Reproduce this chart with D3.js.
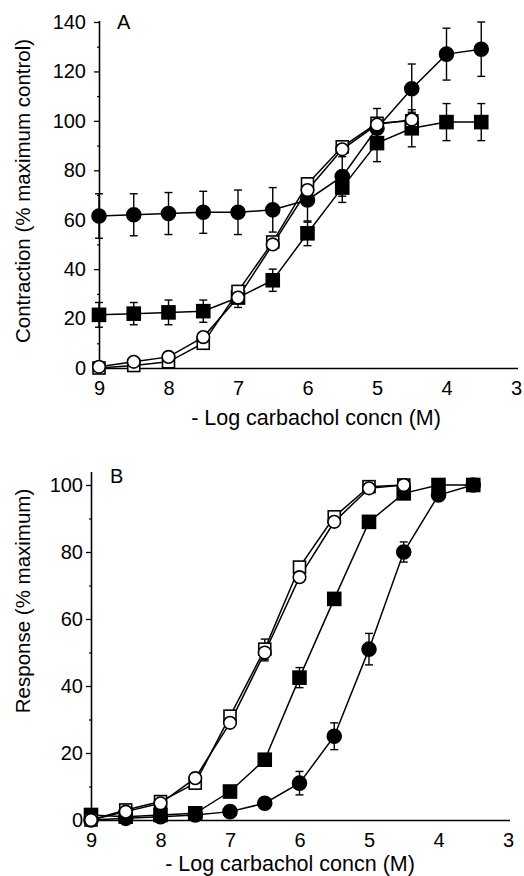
<!DOCTYPE html>
<html>
<head>
<meta charset="utf-8">
<script src="https://cdn.jsdelivr.net/npm/d3@7"></script>
<style>
  body { margin: 0; background: #fff; }
  svg { display: block; font-family: "Liberation Sans", Arial, sans-serif; }
</style>
</head>
<body>
<div id="chart"></div>
<script>
// ---- data (x = -log carbachol concn) ----
const logConc = [9, 8.5, 8, 7.5, 7, 6.5, 6, 5.5, 5, 4.5, 4, 3.5];

// Panel A: contraction (% maximum control)
const aFilledCircle = [61.5, 62, 62.5, 63, 63, 64, 68, 77.5, 97, 113, 127, 129];
const aFilledCircleErr = [9, 8.5, 8.5, 8.5, 9, 9, 9, 8, 8, 10, 10.5, 11];
const aFilledSquare = [21.5, 22, 22.5, 23, 28.5, 35.5, 54.5, 73, 91, 97, 99.5, 99.5];
const aFilledSquareErr = [5, 4.5, 5, 4.5, 4, 4.5, 5, 6, 7.5, 7.5, 7.5, 7.5];
const aOpenSquare = [0, 1, 2.5, 10, 31, 51, 74.5, 89.5, 99, 100];
const aOpenSquareErr = [0, 0, 0, 0, 1.5, 1.5, 2, 2, 2, 0];
const aOpenCircle = [0.5, 2.5, 4.5, 12.5, 28.5, 50, 72, 88.5, 98.5, 100.5];
const aOpenCircleErr = [0, 0, 0, 0, 0, 0, 2, 0, 0, 3];

// Panel B: response (% maximum)
const bFilledCircle = [0, 0.5, 1, 1.5, 2.5, 5, 11, 25, 51, 80, 97, 100];
const bFilledCircleErr = [0, 0, 0, 0, 0, 0, 3.5, 4, 4.7, 3, 1, 0];
const bFilledSquare = [1.5, 1, 1.5, 2, 8.5, 18, 42.5, 66, 89, 97.5, 100, 100];
const bFilledSquareErr = [0, 0, 0, 0, 0, 0, 3, 0, 0, 0, 0, 0];
const bOpenSquare = [0, 3, 5.5, 11, 31, 51, 75.5, 90.5, 99.5, 100];
const bOpenSquareErr = [0, 0, 0, 0, 0, 3, 0, 0, 0, 0];
const bOpenCircle = [0, 2.5, 5, 12.5, 29, 50, 72.5, 89, 99, 100];
const bOpenCircleErr = [0, 0, 0, 0, 0, 2.5, 0, 0, 0, 0];

const xTicks = [9, 8, 7, 6, 5, 4, 3];

const width = 524, height = 876;
const svg = d3.select("#chart").append("svg")
    .attr("width", width)
    .attr("height", height);

function makeSeries(vals, errs, shape, fill) {
    return {
        points: vals.map((v, i) => ({x: logConc[i], y: v, e: errs[i]})),
        shape: shape,
        fill: fill
    };
}

function drawPanel(opt) {
    const x = d3.scaleLinear().domain([9, 3]).range(opt.xRange);
    const y = d3.scaleLinear().domain(opt.yDomain).range(opt.yRange);
    const g = svg.append("g");

    // x axis (no tick marks, just a line and labels)
    const xAxis = g.append("g")
        .attr("transform", `translate(0,${opt.yRange[0]})`)
        .call(d3.axisBottom(x).tickValues(xTicks).tickSize(0).tickPadding(opt.xPad).tickFormat(d3.format("d")));
    xAxis.select(".domain").attr("stroke-width", 1.6)
        .attr("d", `M${opt.yAxisX},0.5H${opt.xRange[1] + 2}`);
    xAxis.selectAll("text").style("font-size", "20px").attr("fill", "#000");

    // y axis major ticks
    const yAxis = g.append("g")
        .attr("transform", `translate(${opt.yAxisX},0)`)
        .call(d3.axisLeft(y).tickValues(opt.yTicks).tickSize(opt.majorTick).tickPadding(opt.yPad));
    yAxis.select(".domain").attr("stroke-width", 1.6)
        .attr("d", `M-0.5,${opt.yRange[0]}V${opt.yTop}`);
    yAxis.selectAll("line").attr("stroke-width", 1.3);
    yAxis.selectAll("text").style("font-size", "20px").attr("fill", "#000");

    // minor ticks
    g.append("g")
        .attr("transform", `translate(${opt.yAxisX},0)`)
        .call(d3.axisLeft(y).tickValues(opt.yMinor).tickSize(3).tickFormat(""))
        .call(s => s.select(".domain").remove())
        .selectAll("line").attr("stroke-width", 1.2);

    // panel letter
    g.append("text")
        .attr("x", opt.letterPos[0]).attr("y", opt.letterPos[1])
        .style("font-size", "20px")
        .text(opt.letter);

    // axis titles
    g.append("text")
        .attr("x", opt.xTitlePos[0]).attr("y", opt.xTitlePos[1])
        .attr("text-anchor", "middle")
        .style("font-size", "21.5px")
        .text("- Log carbachol concn (M)");

    g.append("text")
        .attr("transform", `translate(${opt.yTitlePos[0]},${opt.yTitlePos[1]}) rotate(-90)`)
        .attr("text-anchor", "middle")
        .style("font-size", "20.5px")
        .text(opt.yTitle);

    const line = d3.line().x(d => x(d.x)).y(d => y(d.y));

    // connecting lines
    opt.series.forEach(s => {
        g.append("path")
            .datum(s.points)
            .attr("d", line)
            .attr("fill", "none")
            .attr("stroke", "#000")
            .attr("stroke-width", 1.5);
    });

    // error bars
    opt.series.forEach(s => {
        const eb = g.append("g").attr("stroke", "#000").attr("stroke-width", 1.4);
        s.points.filter(d => d.e > 0).forEach(d => {
            const cx = x(d.x);
            eb.append("line").attr("x1", cx).attr("x2", cx)
                .attr("y1", y(d.y - d.e)).attr("y2", y(d.y + d.e));
            [d.y - d.e, d.y + d.e].forEach(v => {
                eb.append("line").attr("x1", cx - 4).attr("x2", cx + 4)
                    .attr("y1", y(v)).attr("y2", y(v));
            });
        });
    });

    // markers
    opt.series.forEach(s => {
        const mk = g.append("g");
        s.points.forEach(d => {
            if (s.shape === "circle") {
                mk.append("circle")
                    .attr("cx", x(d.x)).attr("cy", y(d.y))
                    .attr("r", s.fill ? 7 : 6.3)
                    .attr("fill", s.fill ? "#000" : "#fff")
                    .attr("stroke", "#000").attr("stroke-width", 1.6);
            } else {
                const side = s.fill ? 13 : 12;
                mk.append("rect")
                    .attr("x", x(d.x) - side / 2).attr("y", y(d.y) - side / 2)
                    .attr("width", side).attr("height", side)
                    .attr("fill", s.fill ? "#000" : "#fff")
                    .attr("stroke", "#000").attr("stroke-width", 1.6);
            }
        });
    });
}

drawPanel({
    xRange: [99, 516],
    yDomain: [0, 140], yRange: [368, 22], yTop: 21,
    yAxisX: 100,
    yTicks: [0, 20, 40, 60, 80, 100, 120, 140],
    yMinor: [10, 30, 50, 70, 90, 110, 130],
    majorTick: 6, yPad: 8, xPad: 13,
    letter: "A", letterPos: [117, 29],
    xTitlePos: [316, 425],
    yTitle: "Contraction (% maximum control)", yTitlePos: [30, 191],
    series: [
        makeSeries(aFilledSquare, aFilledSquareErr, "square", true),
        makeSeries(aFilledCircle, aFilledCircleErr, "circle", true),
        makeSeries(aOpenSquare, aOpenSquareErr, "square", false),
        makeSeries(aOpenCircle, aOpenCircleErr, "circle", false)
    ]
});

drawPanel({
    xRange: [91, 508],
    yDomain: [0, 100], yRange: [820, 485], yTop: 472,
    yAxisX: 92,
    yTicks: [0, 20, 40, 60, 80, 100],
    yMinor: [10, 30, 50, 70, 90],
    majorTick: 6, yPad: 3, xPad: 13,
    letter: "B", letterPos: [110, 483],
    xTitlePos: [290, 871],
    yTitle: "Response (% maximum)", yTitlePos: [30, 601],
    series: [
        makeSeries(bFilledCircle, bFilledCircleErr, "circle", true),
        makeSeries(bFilledSquare, bFilledSquareErr, "square", true),
        makeSeries(bOpenSquare, bOpenSquareErr, "square", false),
        makeSeries(bOpenCircle, bOpenCircleErr, "circle", false)
    ]
});
</script>
</body>
</html>
